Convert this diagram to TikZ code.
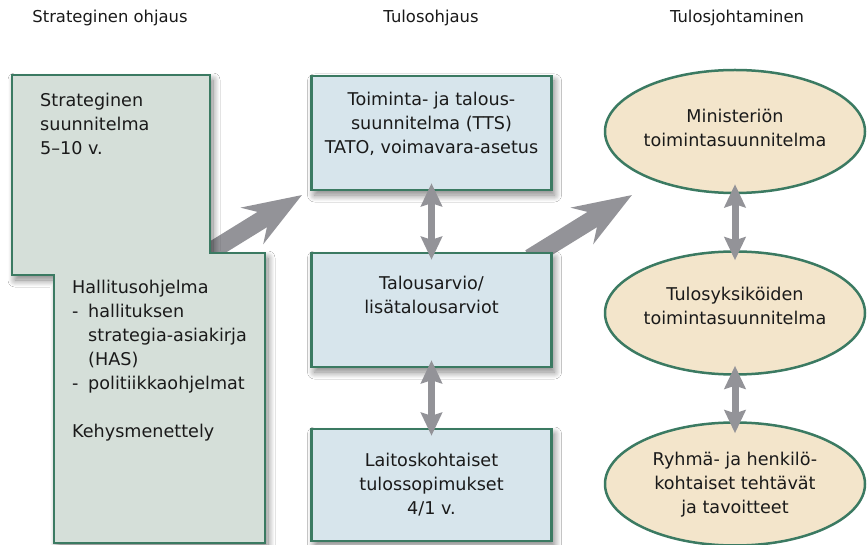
\documentclass[tikz,border=0pt]{standalone}
\usepackage{fontspec}
\setmainfont{DejaVu Sans}
\usetikzlibrary{shapes.geometric,arrows.meta,shadows.blur}
\definecolor{bordergreen}{HTML}{3B7A62}
\definecolor{leftfill}{HTML}{D5DFD9}
\definecolor{boxfill}{HTML}{D7E5EC}
\definecolor{ellfill}{HTML}{F3E5CB}
\definecolor{arrowgray}{HTML}{939398}
\definecolor{txt}{HTML}{1A1A1A}
\newcommand\dgbody{\fontsize{17.6}{24}\selectfont}
\newcommand\dghead{\fontsize{16.4}{20}\selectfont}
\tikzset{
  softshadow/.style={blur shadow={shadow xshift=3pt, shadow yshift=-5pt, shadow blur radius=7pt, shadow blur steps=14, shadow opacity=50}},
  panel/.style={draw=bordergreen, line width=2.5pt, fill=boxfill, minimum width=240pt, minimum height=114pt, inner sep=0pt, softshadow},
  oval/.style={ellipse, draw=bordergreen, line width=2.5pt, fill=ellfill, minimum width=260pt, minimum height=123pt, inner sep=0pt},
  leftpanel/.style={draw=bordergreen, fill=leftfill, line width=2.5pt, softshadow},
  bodytext/.style={font=\dgbody, text=txt, align=center, inner sep=0pt},
  lefttext/.style={font=\dgbody, text=txt, align=left, inner sep=0pt, anchor=north west},
  headtext/.style={font=\dghead, text=txt, inner sep=0pt, anchor=base},
  bigarrow/.style={draw=arrowgray, line width=18pt, -{Stealth[length=58pt,width=42pt,inset=20pt]}},
  dblarrow/.style={draw=arrowgray, line width=7pt, {Stealth[length=23pt,width=21pt,inset=3pt]}-{Stealth[length=23pt,width=21pt,inset=3pt]}},
}
\begin{document}
\begin{tikzpicture}[x=1pt,y=-1pt]
\fill[white] (0,0) rectangle (868,545);
\useasboundingbox (0,0) rectangle (868,545);

% headers
\node[headtext] (h1) at (110,23) {Strateginen ohjaus};
\node[headtext] (h2) at (431,23) {Tulosohjaus};
\node[headtext] (h3) at (737,23) {Tulosjohtaminen};

% big arrows (behind shapes)
\coordinate (a1tail) at (200,258);
\coordinate (a1tip) at (302,195);
\coordinate (a2tail) at (530,258);
\coordinate (a2tip) at (632,195);
\draw[bigarrow] (a1tail) -- (a1tip);
\draw[bigarrow] (a2tail) -- (a2tip);

% left panel
\filldraw[leftpanel] (12,75) -- (210,75) -- (210,253) -- (265,253) -- (265,543) -- (54,543) -- (54,275) -- (12,275) -- cycle;
\node[lefttext] (strat) at (40,93) {Strateginen\\suunnitelma\\5–10 v.};
\node[lefttext] (hallitus) at (72,280) {Hallitusohjelma\\
\makebox[16pt][l]{-}hallituksen\\
\hspace*{16pt}strategia-asiakirja\\
\hspace*{16pt}(HAS)\\
\makebox[16pt][l]{-}politiikkaohjelmat\\
\mbox{}\\
Kehysmenettely};

% middle column
\node[panel] (tts) at (431.5,133) {};
\node[panel] (budget) at (431.5,310) {};
\node[panel, minimum height=112pt] (contracts) at (431.5,485) {};
\node[bodytext] (ttstext) at (431.5,123.5) {Toiminta- ja talous-\\suunnitelma (TTS)\\TATO, voimavara-asetus};
\node[bodytext] (budgettext) at (431.5,294.5) {Talousarvio/\\lisätalousarviot};
\node[bodytext] (contractstext) at (431.5,485) {Laitoskohtaiset\\tulossopimukset\\4/1 v.};

% right column
\node[oval] (plan) at (735,131.5) {};
\node[oval] (units) at (735,313) {};
\node[oval] (persons) at (735,484) {};
\node[bodytext] (plantext) at (735,127.5) {Ministeriön\\toimintasuunnitelma};
\node[bodytext] (unitstext) at (735,306) {Tulosyksiköiden\\toimintasuunnitelma};
\node[bodytext] (personstext) at (735,485) {Ryhmä- ja henkilö-\\kohtaiset tehtävät\\ja tavoitteet};

% double arrows
\draw[dblarrow, shorten <=-8pt, shorten >=-8pt] (tts.south) -- (budget.north);
\draw[dblarrow, shorten <=-8pt, shorten >=-8pt] (budget.south) -- (contracts.north);
\draw[dblarrow, shorten <=-10pt, shorten >=-10pt] (plan.south) -- (units.north);
\draw[dblarrow, shorten <=-10pt, shorten >=-12pt] (units.south) -- (persons.north);
\end{tikzpicture}
\end{document}
